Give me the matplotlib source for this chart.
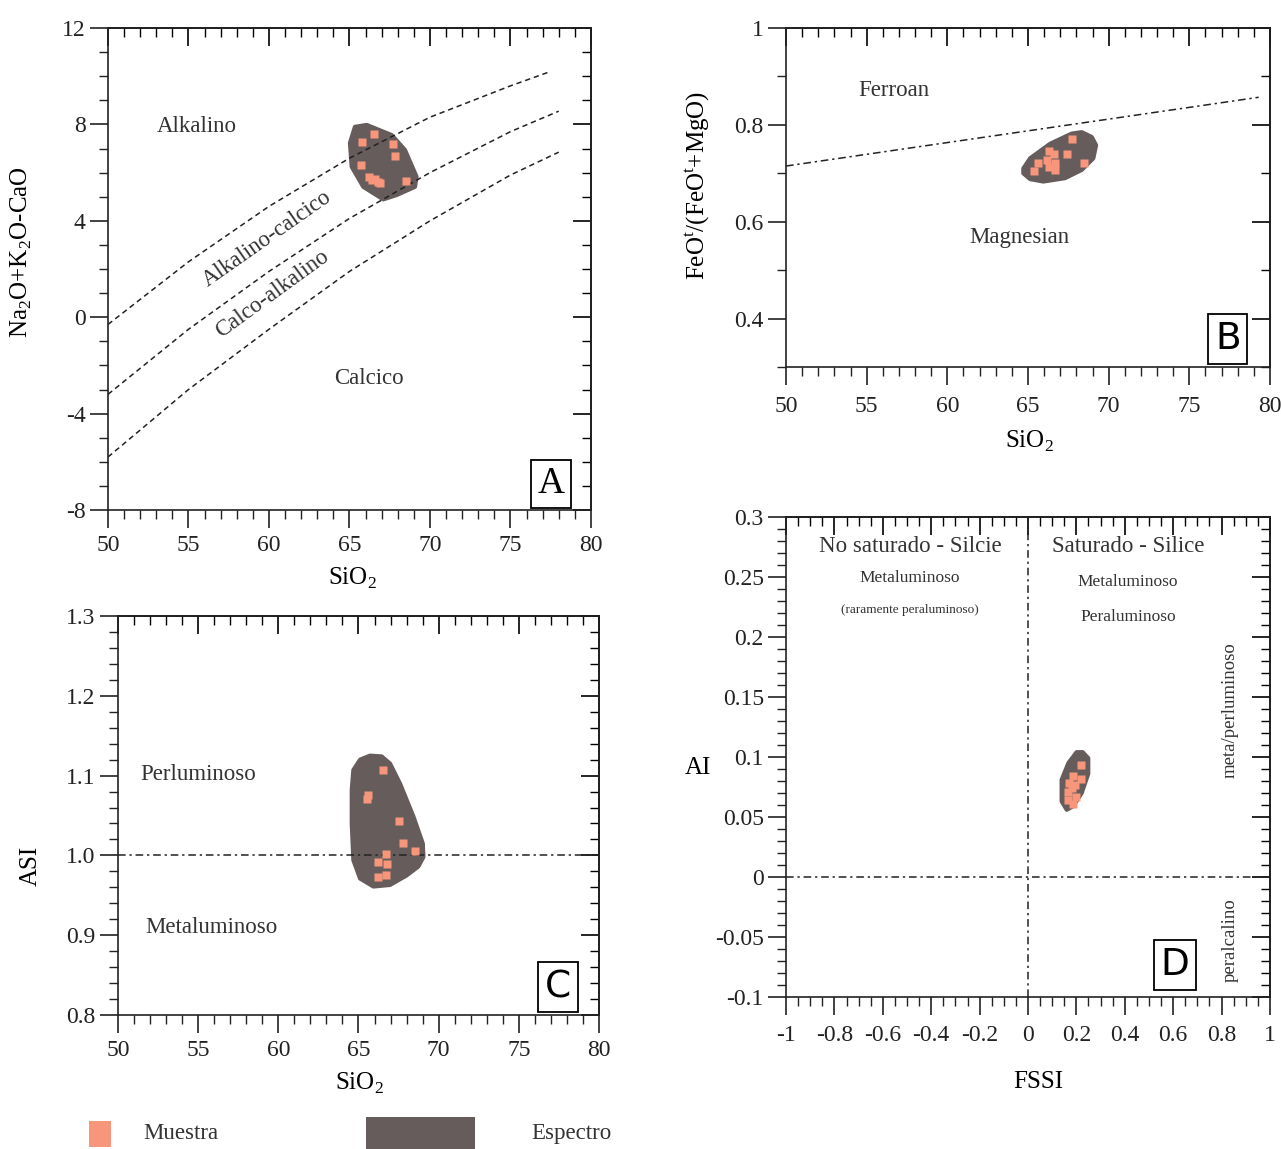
import matplotlib
matplotlib.use("Agg")
import matplotlib.pyplot as plt
from matplotlib.ticker import MultipleLocator
from matplotlib.patches import Polygon, Rectangle

plt.rcParams['font.family'] = ['Liberation Serif', 'DejaVu Serif']
plt.rcParams['mathtext.fontset'] = 'custom'
plt.rcParams['mathtext.rm'] = 'Liberation Serif'
plt.rcParams['axes.unicode_minus'] = False

PT_COLOR = '#F7967A'
SPEC_COLOR = '#675C5C'
TXT = '#333333'

# ---------------- Data ----------------
# Panel A: MALI (Na2O+K2O-CaO vs SiO2)
a_sio2 = [66.5, 65.8, 67.7, 67.8, 65.7, 66.2, 66.4, 66.6, 66.8, 66.9, 68.5]
a_mali = [7.60, 7.26, 7.20, 6.70, 6.32, 5.83, 5.69, 5.73, 5.62, 5.58, 5.65]
a_spec_x = [65.34, 66.07, 67.62, 68.45, 69.17, 69.07, 67.93, 67.10, 65.86, 65.14, 65.03]
a_spec_y = [7.90, 7.98, 7.56, 6.94, 5.83, 5.41, 5.07, 4.89, 5.41, 6.24, 7.23]
a_line1_x = [50, 55, 60, 65, 70, 75, 77.5]
a_line1_y = [-0.3, 2.3, 4.6, 6.6, 8.3, 9.6, 10.2]
a_line2_x = [50, 55, 60, 65, 70, 75, 78]
a_line2_y = [-3.2, -0.5, 1.9, 4.1, 6.0, 7.7, 8.55]
a_line3_x = [50, 55, 60, 65, 70, 75, 78]
a_line3_y = [-5.8, -3.0, -0.5, 1.9, 4.0, 5.9, 6.85]

# Panel B: FeOt/(FeOt+MgO) vs SiO2
b_sio2 = [67.7, 66.3, 66.6, 67.4, 66.2, 66.7, 65.6, 68.5, 66.3, 66.7, 65.4]
b_fe = [0.770, 0.746, 0.740, 0.740, 0.727, 0.722, 0.722, 0.722, 0.713, 0.707, 0.705]
b_spec_x = [64.71, 65.13, 66.37, 67.71, 68.33, 68.95, 69.22, 69.05, 68.33, 67.30, 65.95, 65.13, 64.71]
b_spec_y = [0.710, 0.731, 0.761, 0.782, 0.785, 0.775, 0.758, 0.731, 0.707, 0.690, 0.683, 0.688, 0.700]
b_line_x = [50, 79.3]
b_line_y = [0.715, 0.857]

# Panel C: ASI vs SiO2
c_sio2 = [66.5, 65.6, 65.5, 67.5, 67.8, 68.5, 66.7, 66.2, 66.8, 66.7, 66.2]
c_asi = [1.107, 1.076, 1.071, 1.043, 1.016, 1.005, 1.002, 0.992, 0.989, 0.976, 0.973]
c_spec_x = [64.68, 65.10, 65.72, 66.45, 66.97, 67.59, 68.42, 69.01, 69.05, 68.73, 68.01,
            66.97, 65.93, 65.10, 64.68, 64.58, 64.58]
c_spec_y = [1.107, 1.120, 1.125, 1.124, 1.115, 1.090, 1.049, 1.015, 0.998, 0.986, 0.975,
            0.963, 0.961, 0.971, 0.994, 1.040, 1.082]
c_asi_limit = 1.0

# Panel D: AI vs FSSI
d_fssi = [0.218, 0.187, 0.219, 0.171, 0.194, 0.181, 0.167, 0.198, 0.167, 0.184]
d_ai = [0.093, 0.084, 0.082, 0.078, 0.077, 0.074, 0.071, 0.067, 0.064, 0.061]
d_spec_x = [0.226, 0.249, 0.249, 0.222, 0.187, 0.160, 0.139, 0.139, 0.167, 0.201]
d_spec_y = [0.104, 0.099, 0.086, 0.070, 0.059, 0.056, 0.063, 0.081, 0.095, 0.104]

legend_labels = ['Muestra', 'Espectro']

# ---------------- Figure ----------------
fig = plt.figure(figsize=(12.81, 11.49), dpi=100)

axA = fig.add_axes([0.0843, 0.5561, 0.3770, 0.4195])
axB = fig.add_axes([0.6136, 0.6806, 0.3778, 0.2950])
axC = fig.add_axes([0.0921, 0.1166, 0.3755, 0.3473])
axD = fig.add_axes([0.6136, 0.1323, 0.3778, 0.4178])

TICK_FS = 17
LAB_FS = 18
REG_FS = 16.5


def style(ax, xlim, ylim, xmaj, xmin, ymaj, ymin):
    ax.set_xlim(*xlim)
    ax.set_ylim(*ylim)
    for s in ax.spines.values():
        s.set_linewidth(1.2)
        s.set_color('#222222')
    ax.xaxis.set_major_locator(MultipleLocator(xmaj))
    ax.xaxis.set_minor_locator(MultipleLocator(xmin))
    ax.yaxis.set_major_locator(MultipleLocator(ymaj))
    ax.yaxis.set_minor_locator(MultipleLocator(ymin))
    ax.tick_params(which='major', direction='out', length=13, width=1.2,
                   labelsize=TICK_FS, pad=3, colors='#222222')
    ax.tick_params(axis='x', which='major', pad=5)
    ax.tick_params(which='minor', direction='out', length=6.5, width=1.0, colors='#222222')
    secx = ax.secondary_xaxis('top')
    secx.xaxis.set_major_locator(MultipleLocator(xmaj))
    secx.xaxis.set_minor_locator(MultipleLocator(xmin))
    secx.tick_params(which='major', direction='in', length=13, width=1.2, labeltop=False)
    secx.tick_params(which='minor', direction='in', length=6.5, width=1.0)
    secx.spines['top'].set_linewidth(1.2)
    secy = ax.secondary_yaxis('right')
    secy.yaxis.set_major_locator(MultipleLocator(ymaj))
    secy.yaxis.set_minor_locator(MultipleLocator(ymin))
    secy.tick_params(which='major', direction='in', length=13, width=1.2, labelright=False)
    secy.tick_params(which='minor', direction='in', length=6.5, width=1.0)
    secy.spines['right'].set_linewidth(1.2)


def boxed(ax, x, y, letter, family):
    ax.text(x, y, letter, transform=ax.transAxes, ha='center', va='center',
            fontsize=27, family=family, color='black',
            bbox=dict(boxstyle='square,pad=0.18', fc='white', ec='black', lw=1.3), zorder=6)


def spectrum(ax, xs, ys):
    ax.add_patch(Polygon(list(zip(xs, ys)), closed=True, fc=SPEC_COLOR, ec=SPEC_COLOR,
                         lw=3, joinstyle='round', zorder=2))


# ---- Panel A ----
style(axA, (50, 80), (-8, 12), 5, 1, 4, 1)
for lx, ly in [(a_line1_x, a_line1_y), (a_line2_x, a_line2_y), (a_line3_x, a_line3_y)]:
    axA.plot(lx, ly, color='#222222', lw=1.1, dashes=(3.5, 2.5), zorder=3)
spectrum(axA, a_spec_x, a_spec_y)
axA.plot(a_sio2, a_mali, 's', color=PT_COLOR, ms=5.5, mec='none', zorder=4)
axA.text(55.5, 7.9, 'Alkalino', fontsize=REG_FS, color=TXT, ha='center', va='center')
axA.text(66.2, -2.55, 'Calcico', fontsize=REG_FS, color=TXT, ha='center', va='center')
axA.text(59.9, 3.25, 'Alkalino-calcico', fontsize=REG_FS, color=TXT, ha='center', va='center', rotation=35)
axA.text(60.2, 0.95, 'Calco-alkalino', fontsize=REG_FS, color=TXT, ha='center', va='center', rotation=36)
axA.set_xlabel('SiO$_\\mathregular{2}$', fontsize=LAB_FS)
axA.set_ylabel('Na$_\\mathregular{2}$O+K$_\\mathregular{2}$O-CaO', fontsize=LAB_FS)
axA.xaxis.set_label_coords(0.507, -0.115)
axA.yaxis.set_label_coords(-0.153, 0.535)
boxed(axA, 0.917, 0.054, 'A', 'Liberation Serif')

# ---- Panel B ----
style(axB, (50, 80), (0.3, 1.0), 5, 1, 0.2, 0.1)
axB.tick_params(axis='x', which='major', pad=8)
axB.yaxis.set_major_formatter(plt.FuncFormatter(lambda v, p: '1' if abs(v - 1) < 1e-9 else f'{v:.1f}'))
axB.plot(b_line_x, b_line_y, color='#222222', lw=1.1, dashes=(5, 2.5, 1.5, 2.5), zorder=3)
spectrum(axB, b_spec_x, b_spec_y)
axB.plot(b_sio2, b_fe, 's', color=PT_COLOR, ms=5.5, mec='none', zorder=4)
axB.text(56.7, 0.871, 'Ferroan', fontsize=REG_FS, color=TXT, ha='center', va='center')
axB.text(64.45, 0.567, 'Magnesian', fontsize=REG_FS, color=TXT, ha='center', va='center')
axB.set_xlabel('SiO$_\\mathregular{2}$', fontsize=LAB_FS)
axB.set_ylabel('FeO$^\\mathregular{t}$/(FeO$^\\mathregular{t}$+MgO)', fontsize=LAB_FS)
axB.xaxis.set_label_coords(0.504, -0.183)
axB.yaxis.set_label_coords(-0.153, 0.537)
boxed(axB, 0.913, 0.083, 'B', 'DejaVu Sans')

# ---- Panel C ----
style(axC, (50, 80), (0.8, 1.3), 5, 1, 0.1, 0.02)
axC.yaxis.set_major_formatter(plt.FuncFormatter(lambda v, p: f'{v:.1f}'))
axC.axhline(c_asi_limit, color='#222222', lw=1.1, dashes=(5, 2.5, 1.5, 2.5), zorder=3)
spectrum(axC, c_spec_x, c_spec_y)
axC.plot(c_sio2, c_asi, 's', color=PT_COLOR, ms=5.5, mec='none', zorder=4)
axC.text(55.0, 1.101, 'Perluminoso', fontsize=REG_FS, color=TXT, ha='center', va='center')
axC.text(55.8, 0.910, 'Metaluminoso', fontsize=REG_FS, color=TXT, ha='center', va='center')
axC.set_xlabel('SiO$_\\mathregular{2}$', fontsize=LAB_FS)
axC.set_ylabel('ASI', fontsize=LAB_FS)
axC.xaxis.set_label_coords(0.503, -0.14)
axC.yaxis.set_label_coords(-0.158, 0.373)
boxed(axC, 0.915, 0.070, 'C', 'DejaVu Sans')

# ---- Panel D ----
style(axD, (-1, 1), (-0.1, 0.3), 0.2, 0.05, 0.05, 0.01)
axD.tick_params(axis='x', which='major', pad=7)
axD.xaxis.set_major_formatter(plt.FuncFormatter(
    lambda v, p: '0' if abs(v) < 1e-9 else ('1' if abs(v - 1) < 1e-9 else ('-1' if abs(v + 1) < 1e-9 else f'{v:.1f}'))))
axD.yaxis.set_major_formatter(plt.FuncFormatter(
    lambda v, p: '0' if abs(v) < 1e-9 else f'{v:.2f}'.rstrip('0')))
axD.axhline(0, color='#222222', lw=1.1, dashes=(5, 2.5, 1.5, 2.5), zorder=3)
axD.axvline(0, color='#222222', lw=1.1, dashes=(5, 2.5, 1.5, 2.5), zorder=3)
spectrum(axD, d_spec_x, d_spec_y)
axD.plot(d_fssi, d_ai, 's', color=PT_COLOR, ms=5.5, mec='none', zorder=4)
axD.text(-0.488, 0.275, 'No saturado - Silcie', fontsize=REG_FS, color=TXT, ha='center', va='center')
axD.text(-0.488, 0.249, 'Metaluminoso', fontsize=12.5, color=TXT, ha='center', va='center')
axD.text(-0.488, 0.2225, '(raramente peraluminoso)', fontsize=9.5, color=TXT, ha='center', va='center')
axD.text(0.413, 0.275, 'Saturado - Silice', fontsize=REG_FS, color=TXT, ha='center', va='center')
axD.text(0.413, 0.246, 'Metaluminoso', fontsize=12.5, color=TXT, ha='center', va='center')
axD.text(0.413, 0.2167, 'Peraluminoso', fontsize=12.5, color=TXT, ha='center', va='center')
axD.text(0.835, 0.139, 'meta/perluminoso', fontsize=13.5, color=TXT, ha='center', va='center', rotation=90)
axD.text(0.835, -0.0525, 'peralcalino', fontsize=13.5, color=TXT, ha='center', va='center', rotation=90)
axD.set_xlabel('FSSI', fontsize=LAB_FS)
axD.set_ylabel('AI', fontsize=LAB_FS, rotation=0, ha='center', va='center')
axD.xaxis.set_label_coords(0.521, -0.154)
axD.yaxis.set_label_coords(-0.182, 0.477)
boxed(axD, 0.804, 0.067, 'D', 'DejaVu Sans')

# ---- Legend ----
axL = fig.add_axes([0, 0, 1, 0.045])
axL.set_xlim(0, 1281)
axL.set_ylim(51.7, 0)
axL.axis('off')
axL.add_patch(Rectangle((89, 24), 22, 26, fc=PT_COLOR, ec='none'))
axL.add_patch(Rectangle((366, 20), 109, 32, fc=SPEC_COLOR, ec='none'))
axL.text(143, 36, legend_labels[0], fontsize=REG_FS, color=TXT, ha='left', va='center')
axL.text(531, 36, legend_labels[1], fontsize=REG_FS, color=TXT, ha='left', va='center')

fig.savefig('out.png', dpi=100)
